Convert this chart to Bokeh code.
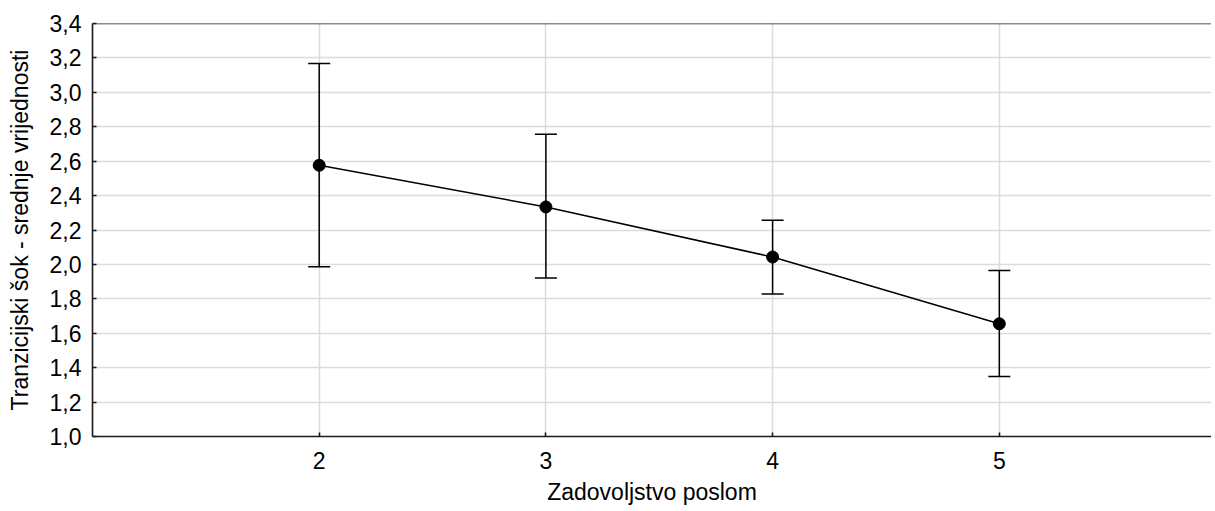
from bokeh.plotting import figure
from bokeh.models import (Range1d, FixedTicker, CustomJSTickFormatter,
                          ColumnDataSource, Whisker, TeeHead, Span)
from bokeh.embed import file_html
from bokeh.resources import INLINE

# Data
categories = [2, 3, 4, 5]
means = [2.576, 2.334, 2.043, 1.655]
upper = [3.168, 2.756, 2.256, 1.964]
lower = [1.987, 1.921, 1.828, 1.349]
y_ticks = [1.0, 1.2, 1.4, 1.6, 1.8, 2.0, 2.2, 2.4, 2.6, 2.8, 3.0, 3.2, 3.4]
x_label = "Zadovoljstvo poslom"
y_label = "Tranzicijski šok - srednje vrijednosti"

FONT = "Liberation Sans"
AX = "#1a1a1a"

src = ColumnDataSource(dict(x=categories, m=means, up=upper, lo=lower))

p = figure(width=1211, height=507, output_backend="svg", toolbar_location=None,
           x_range=Range1d(1.0, 5.936), y_range=Range1d(1.0, 3.4),
           min_border_left=92, min_border_right=0, min_border_top=23,
           min_border_bottom=60)
p.outline_line_color = None
p.background_fill_color = "white"
p.border_fill_color = "white"

# grid
p.xgrid.ticker = FixedTicker(ticks=categories)
p.ygrid.ticker = FixedTicker(ticks=y_ticks)
for g in (p.xgrid, p.ygrid):
    g.grid_line_color = "#dcdcdc"
    g.grid_line_width = 1.5

fmt = CustomJSTickFormatter(code="return tick.toFixed(1).replace('.', ',');")

xa = p.xaxis[0]
xa.ticker = FixedTicker(ticks=categories)
xa.axis_label = x_label
xa.axis_label_standoff = 7
xa.major_label_standoff = 15

ya = p.yaxis[0]
ya.ticker = FixedTicker(ticks=y_ticks)
ya.formatter = fmt
ya.axis_label = y_label
ya.axis_label_standoff = 14
ya.major_label_standoff = 11

for ax in (xa, ya):
    ax.axis_line_color = AX
    ax.axis_line_width = 1.6
    ax.major_tick_in = 4
    ax.major_tick_out = 0
    ax.major_tick_line_color = AX
    ax.major_tick_line_width = 1.6
    ax.minor_tick_line_color = None
    ax.major_label_text_font = FONT
    ax.major_label_text_color = "black"
    ax.major_label_text_font_size = "23px"
    ax.axis_label_text_font = FONT
    ax.axis_label_text_font_style = "normal"
    ax.axis_label_text_color = "black"
    ax.axis_label_text_font_size = "23px"

# top frame line
p.add_layout(Span(location=3.4, dimension="width", line_color=AX, line_width=1.6))

# error bars
wh = Whisker(source=src, base="x", upper="up", lower="lo", dimension="height",
             line_color="black", line_width=1.5,
             upper_head=TeeHead(size=22, line_color="black", line_width=1.5),
             lower_head=TeeHead(size=22, line_color="black", line_width=1.5))
p.add_layout(wh)

p.line("x", "m", source=src, line_color="black", line_width=1.5)
p.scatter("x", "m", source=src, size=12, fill_color="black", line_color="black")

open("out.html", "w").write(file_html(p, INLINE))
